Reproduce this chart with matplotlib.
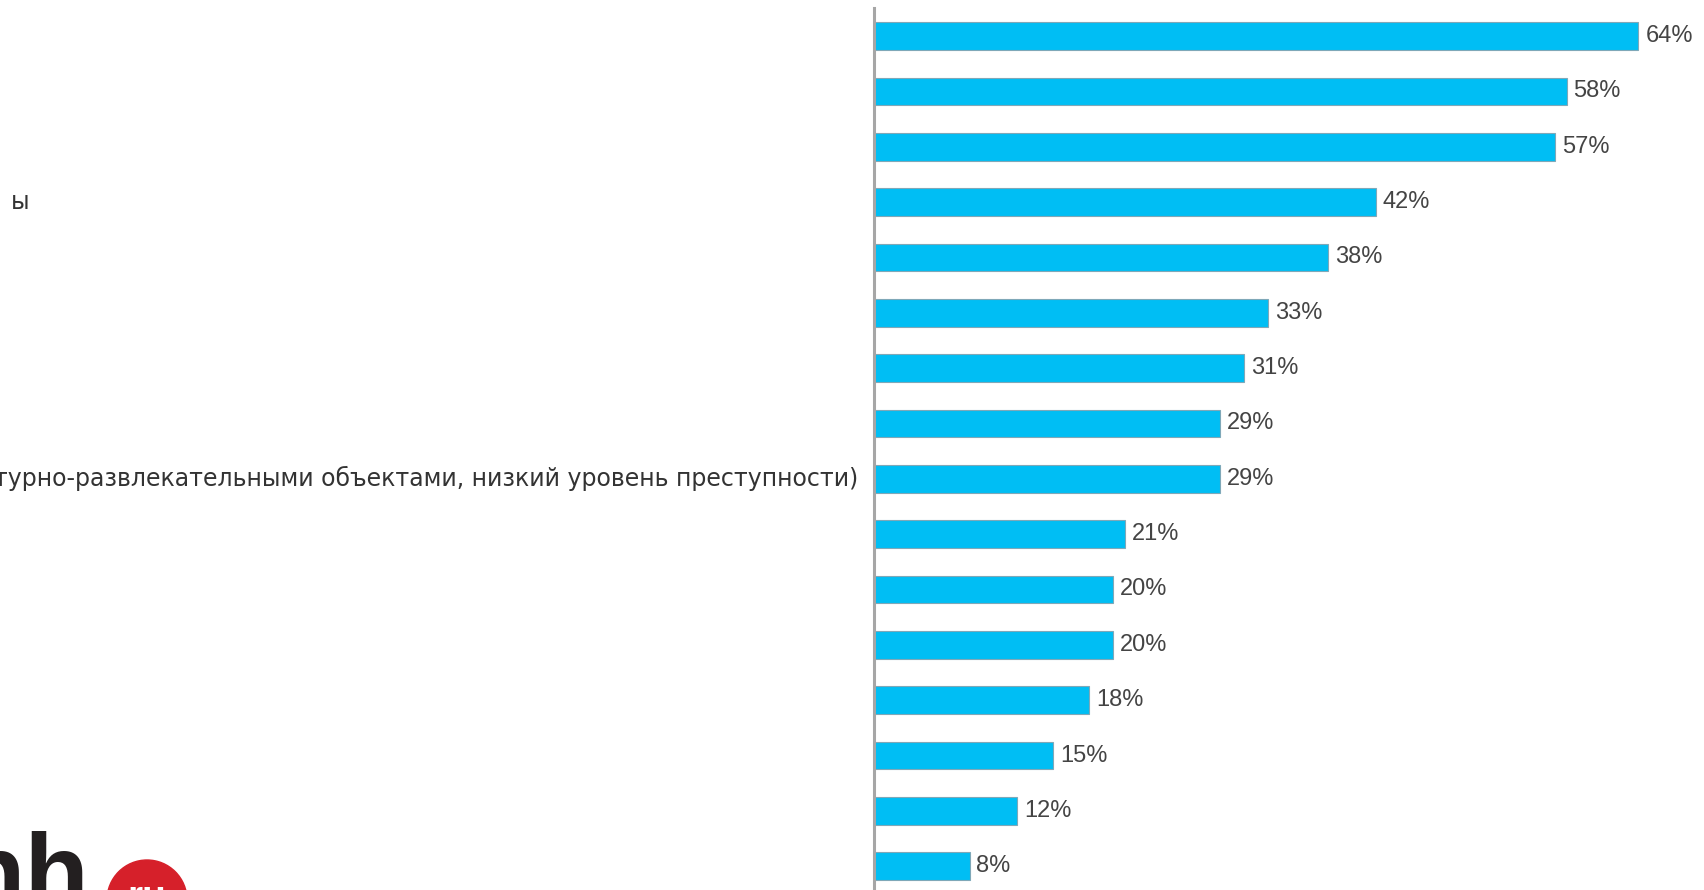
import matplotlib
matplotlib.use("Agg")
import matplotlib.pyplot as plt
from matplotlib.patches import Circle

plt.rcParams['font.family'] = ['Liberation Sans', 'DejaVu Sans']

# values (top to bottom), share of respondents in %
values = [64, 58, 57, 42, 38, 33, 31, 29, 29, 21, 20, 20, 18, 15, 12, 8]
value_labels = [f"{v}%" for v in values]

# category labels: only these fragments are visible in the cropped source
labels = ["", "", "", "ы", "", "", "", "",
          "ьтурно-развлекательными объектами, низкий уровень преступности)",
          "", "", "", "", "", "", ""]
# where each visible fragment ends, px left of the axis line
label_end_px = [0, 0, 0, 845, 0, 0, 0, 0, 16, 0, 0, 0, 0, 0, 0, 0]

W, H = 1704, 890
fig = plt.figure(figsize=(W / 100, H / 100), dpi=100)
ax = fig.add_axes([874 / W, 0, 830 / W, 882 / H])

ypos = list(range(len(values)))
ax.barh(ypos, values, height=0.5, color="#00BEF4", edgecolor="#7fa8b8", linewidth=0.8, zorder=2)

ax.set_xlim(0, 69.5)
ax.set_ylim(15.43, -0.506)

for s in ["top", "right", "bottom"]:
    ax.spines[s].set_visible(False)
ax.spines["left"].set_color("#a6a6a6")
ax.spines["left"].set_linewidth(2.2)
ax.spines["left"].set_zorder(3)
ax.set_xticks([])
ax.set_yticks([])

# percentage labels
for y, v, t in zip(ypos, values, value_labels):
    ax.annotate(t, xy=(v, y), xytext=(5, 0), textcoords="offset points",
                ha="left", va="center", fontsize=17, color="#444444")

# category labels (cut off by the crop)
for y, lab, off in zip(ypos, labels, label_end_px):
    if lab:
        ax.annotate(lab, xy=(0, y), xytext=(-off * 0.72, 0), textcoords="offset points",
                    ha="right", va="center", fontsize=17, color="#333333",
                    family="DejaVu Sans", annotation_clip=False)

# hh.ru logo in the lower left corner
fig.text(-39 / W, -0.02, "hh", fontsize=76, fontweight="bold", color="#231f20",
         ha="left", va="baseline")
fig.add_artist(Circle((1.47, -0.10), 0.40, transform=fig.dpi_scale_trans,
                      color="#d6202a", zorder=5))
fig.text(147 / W, (H - 908) / H, "ru", fontsize=28, fontweight="bold", color="white",
         ha="center", va="baseline", zorder=6)

fig.savefig("out.png", dpi=100)
